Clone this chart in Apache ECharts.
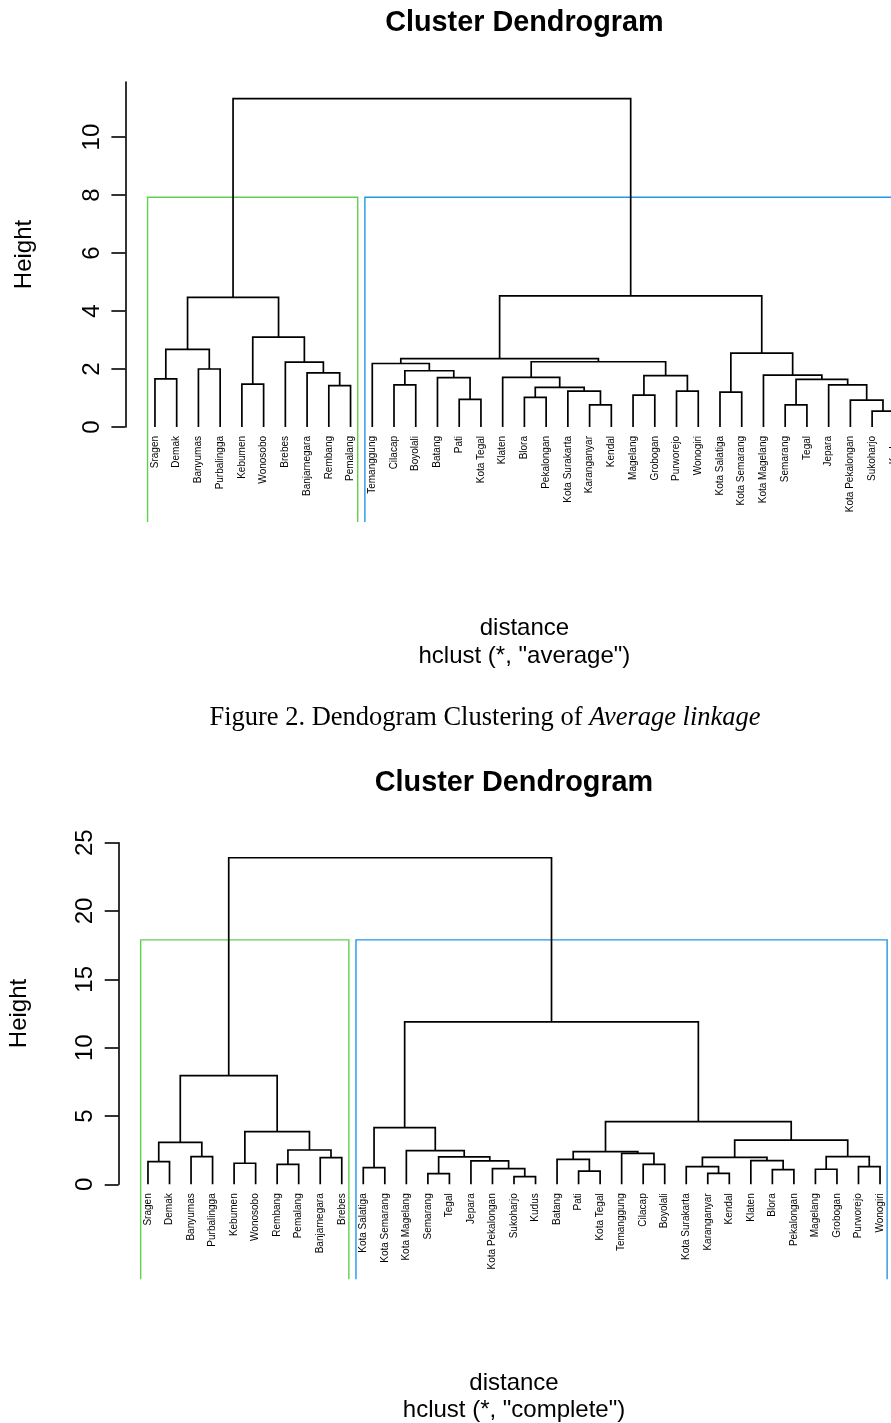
<!DOCTYPE html>
<html>
<head>
<meta charset="utf-8">
<title>Cluster Dendrogram</title>
<script src="https://cdn.jsdelivr.net/npm/echarts@6/dist/echarts.min.js"></script>
<style>
  html, body { margin: 0; padding: 0; background: #fff; }
  #chart { width: 891px; height: 1423px; }
</style>
</head>
<body>
<div id="chart"></div>
<script>
// hclust merges: [left, right, height]
// a string is a leaf, a number points to an earlier row of the same list
const averageMerges = [
  ['Sragen', 'Demak', 1.66],
  ['Banyumas', 'Purbalingga', 2.0],
  [0, 1, 2.68],
  ['Kebumen', 'Wonosobo', 1.48],
  ['Rembang', 'Pemalang', 1.43],
  ['Banjarnegara', 4, 1.87],
  ['Brebes', 5, 2.24],
  [3, 6, 3.1],
  [2, 7, 4.47],
  ['Cilacap', 'Boyolali', 1.45],
  ['Pati', 'Kota Tegal', 0.95],
  ['Batang', 10, 1.7],
  [9, 11, 1.94],
  ['Temanggung', 12, 2.19],
  ['Blora', 'Pekalongan', 1.02],
  ['Karanganyar', 'Kendal', 0.76],
  ['Kota Surakarta', 15, 1.24],
  [14, 16, 1.37],
  ['Klaten', 17, 1.71],
  ['Magelang', 'Grobogan', 1.1],
  ['Purworejo', 'Wonogiri', 1.24],
  [19, 20, 1.77],
  [18, 21, 2.25],
  [13, 22, 2.36],
  ['Kota Salatiga', 'Kota Semarang', 1.2],
  ['Semarang', 'Tegal', 0.76],
  ['Sukoharjo', 'Kudus', 0.55],
  ['Kota Pekalongan', 26, 0.93],
  ['Jepara', 27, 1.45],
  [25, 28, 1.64],
  ['Kota Magelang', 29, 1.79],
  [24, 30, 2.55],
  [23, 31, 4.52],
  [8, 32, 11.33]
];

const completeMerges = [
  ['Sragen', 'Demak', 1.66],
  ['Banyumas', 'Purbalingga', 2.03],
  [0, 1, 3.07],
  ['Kebumen', 'Wonosobo', 1.54],
  ['Rembang', 'Pemalang', 1.46],
  ['Banjarnegara', 'Brebes', 1.95],
  [4, 5, 2.51],
  [3, 6, 3.85],
  [2, 7, 7.95],
  ['Kota Salatiga', 'Kota Semarang', 1.22],
  ['Semarang', 'Tegal', 0.78],
  ['Sukoharjo', 'Kudus', 0.56],
  ['Kota Pekalongan', 11, 1.14],
  ['Jepara', 12, 1.71],
  [10, 13, 2.0],
  ['Kota Magelang', 14, 2.46],
  [9, 15, 4.15],
  ['Pati', 'Kota Tegal', 0.97],
  ['Batang', 17, 1.83],
  ['Cilacap', 'Boyolali', 1.46],
  ['Temanggung', 19, 2.27],
  [18, 20, 2.39],
  ['Karanganyar', 'Kendal', 0.8],
  ['Kota Surakarta', 22, 1.29],
  ['Blora', 'Pekalongan', 1.07],
  ['Klaten', 24, 1.73],
  [23, 25, 1.97],
  ['Magelang', 'Grobogan', 1.1],
  ['Purworejo', 'Wonogiri', 1.29],
  [27, 28, 2.02],
  [26, 29, 3.24],
  [21, 30, 4.58],
  [16, 31, 11.88],
  [8, 32, 23.9]
];

const averageTicks = [0, 2, 4, 6, 8, 10];
const completeTicks = [0, 5, 10, 15, 20, 25];

const rectColors = ['#61D04F', '#2297E6'];
const sansFont = '"Liberation Sans", Arial, sans-serif';
const serifFont = '"Liberation Serif", "Times New Roman", serif';

// walk the tree from the root: leaves get x = 1..n, a merge sits over the middle of its children
function buildTree(merges) {
  const leaves = [];
  const segments = [];
  function place(ref) {
    if (typeof ref === 'string') {
      leaves.push(ref);
      return { x: leaves.length, h: 0 };
    }
    const [a, b, h] = merges[ref];
    const l = place(a);
    const r = place(b);
    segments.push([l.x, l.h, r.x, r.h, h]);
    return { x: (l.x + r.x) / 2, h: h };
  }
  const root = merges[merges.length - 1];
  const l = place(root[0]);
  const nLeft = leaves.length;
  const r = place(root[1]);
  segments.push([l.x, l.h, r.x, r.h, root[2]]);
  const n = leaves.length;
  // rect.hclust(k = 2): boxes up to the mean of the two highest merges
  const sorted = merges.map((m) => m[2]).sort((p, q) => q - p);
  const rectTop = (sorted[0] + sorted[1]) / 2;
  const rects = [
    [0.66, nLeft + 0.33, rectTop, 0],
    [nLeft + 0.66, n + 0.33, rectTop, 1]
  ];
  return { leaves, segments, rects };
}

const avg = buildTree(averageMerges);
const comp = buildTree(completeMerges);

function xAxisFor(tree, gridIndex) {
  const n = tree.leaves.length;
  const pad = 0.04 * (n - 1);
  return {
    type: 'value',
    gridIndex: gridIndex,
    min: 1 - pad,
    max: n + pad,
    axisLine: { show: false, onZero: false },
    axisTick: { show: false },
    splitLine: { show: false },
    axisLabel: {
      customValues: tree.leaves.map((_, i) => i + 1),
      formatter: (v) => tree.leaves[Math.round(v) - 1] || '',
      rotate: 90,
      margin: 9,
      fontSize: 10,
      fontFamily: sansFont,
      color: '#000'
    }
  };
}

function yAxisFor(ticks, max, gridIndex, nameGap) {
  return {
    type: 'value',
    gridIndex: gridIndex,
    min: 0,
    max: max,
    name: 'Height',
    nameLocation: 'middle',
    nameRotate: 90,
    nameGap: nameGap,
    nameTextStyle: { fontSize: 24, fontFamily: sansFont, color: '#000' },
    axisLine: { show: true, onZero: false, lineStyle: { color: '#000', width: 1.6 } },
    axisTick: { show: true, customValues: ticks, length: 14, lineStyle: { color: '#000', width: 1.6 } },
    axisLabel: {
      customValues: ticks,
      rotate: 90,
      margin: 21,
      fontSize: 24,
      fontFamily: sansFont,
      color: '#000'
    },
    splitLine: { show: false }
  };
}

function treeSeries(tree, idx) {
  return {
    type: 'custom',
    xAxisIndex: idx,
    yAxisIndex: idx,
    clip: false,
    silent: true,
    data: tree.segments,
    renderItem: (params, api) => {
      const a = api.coord([api.value(0), api.value(1)]);
      const b = api.coord([api.value(0), api.value(4)]);
      const c = api.coord([api.value(2), api.value(4)]);
      const d = api.coord([api.value(2), api.value(3)]);
      return {
        type: 'polyline',
        shape: { points: [a, b, c, d] },
        style: { stroke: '#000', lineWidth: 1.7, fill: null }
      };
    }
  };
}

function rectSeries(tree, idx) {
  return {
    type: 'custom',
    xAxisIndex: idx,
    yAxisIndex: idx,
    clip: false,
    silent: true,
    data: tree.rects,
    renderItem: (params, api) => {
      const base = api.coord([api.value(0), 0])[1] + 95;
      const tl = api.coord([api.value(0), api.value(2)]);
      const tr = api.coord([api.value(1), api.value(2)]);
      return {
        type: 'polyline',
        shape: { points: [[tl[0], base], tl, tr, [tr[0], base]] },
        style: { stroke: rectColors[api.value(3)], lineWidth: 1.4, fill: null }
      };
    }
  };
}

function label(text, x, y, font) {
  return {
    type: 'text',
    x: x,
    y: y,
    silent: true,
    style: { text: text, font: font, fill: '#000', align: 'center', verticalAlign: 'middle' }
  };
}

const chart = echarts.init(document.getElementById('chart'), null, { renderer: 'canvas' });

chart.setOption({
  animation: false,
  backgroundColor: '#fff',
  grid: [
    { left: 125.4, top: 82, width: 798, height: 345, outerBoundsMode: 'none', containLabel: false },
    { left: 118.7, top: 842.7, width: 790.6, height: 341.6, outerBoundsMode: 'none', containLabel: false }
  ],
  xAxis: [xAxisFor(avg, 0), xAxisFor(comp, 1)],
  yAxis: [yAxisFor(averageTicks, 11.9, 0, 89), yAxisFor(completeTicks, 25, 1, 87)],
  series: [rectSeries(avg, 0), treeSeries(avg, 0), rectSeries(comp, 1), treeSeries(comp, 1)],
  graphic: [
    label('Cluster Dendrogram', 524.4, 23, 'bold 28.8px ' + sansFont),
    label('distance', 524.4, 628, '24px ' + sansFont),
    label('hclust (*, "average")', 524.4, 656, '24px ' + sansFont),
    {
      type: 'text',
      x: 485,
      y: 718,
      silent: true,
      style: {
        text: '{n|Figure 2. Dendogram Clustering of }{i|Average linkage}',
        align: 'center',
        verticalAlign: 'middle',
        rich: {
          n: { fontFamily: serifFont, fontSize: 26.5, fill: '#000' },
          i: { fontFamily: serifFont, fontSize: 26.5, fontStyle: 'italic', fill: '#000' }
        }
      }
    },
    label('Cluster Dendrogram', 514, 783, 'bold 28.8px ' + sansFont),
    label('distance', 514, 1383, '24px ' + sansFont),
    label('hclust (*, "complete")', 514, 1410, '24px ' + sansFont)
  ]
});
</script>
</body>
</html>
